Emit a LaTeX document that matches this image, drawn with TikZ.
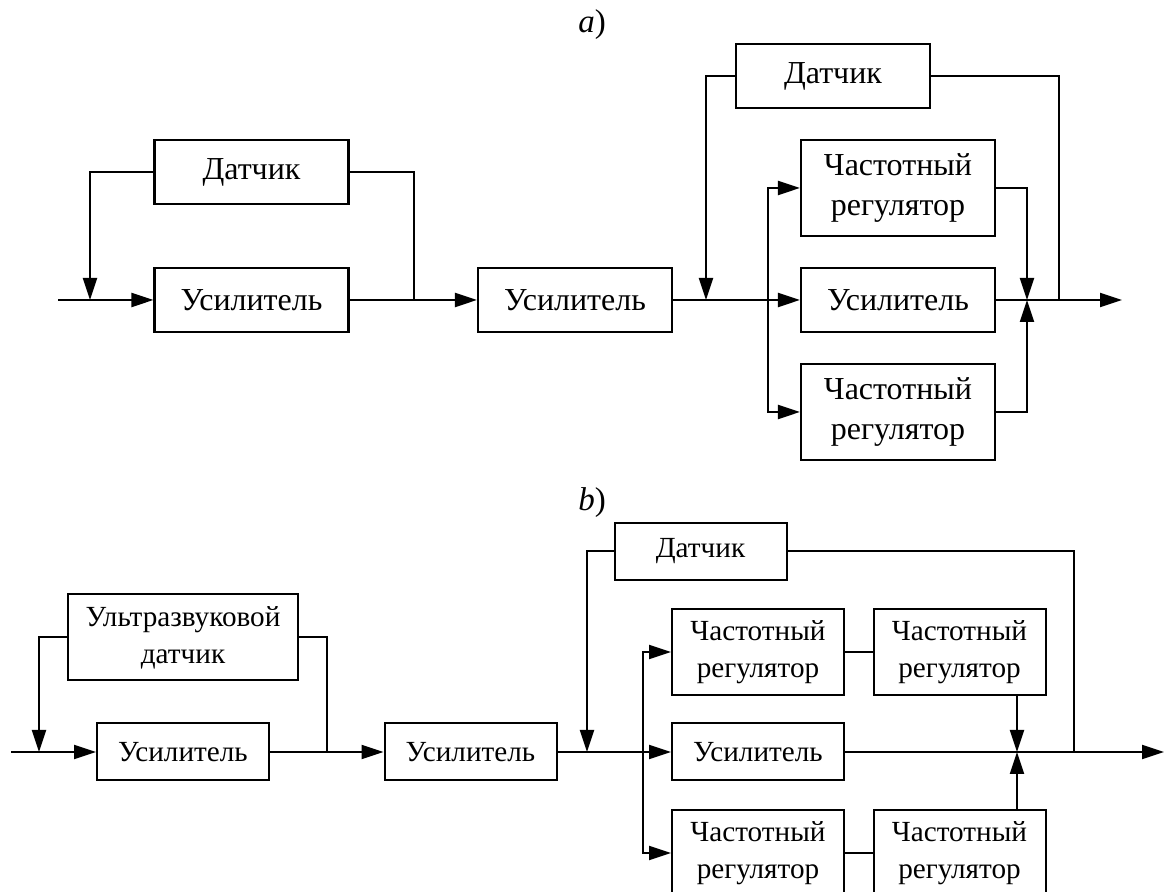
\documentclass[tikz,border=0pt]{standalone}
\usepackage{fontspec}
\setmainfont{Liberation Serif}
\usetikzlibrary{arrows.meta}
\tikzset{
  wire/.style={line width=1.1pt},
  sig/.style={wire,-{Triangle[length=11pt,width=7pt]}},
  boxA/.style={draw,line width=1.1pt,inner sep=0pt,align=center,
    minimum width=97pt,minimum height=32pt,font=\fontsize{16}{20}\selectfont},
  tallA/.style={boxA,minimum height=48pt},
  boxB/.style={draw,line width=1pt,inner sep=0pt,align=center,
    minimum width=86pt,minimum height=28.5pt,font=\fontsize{14.6}{18.5}\selectfont},
  tallB/.style={boxB,minimum height=43pt},
  caption/.style={font=\fontsize{16.5}{18}\selectfont}
}
\begin{document}
\begin{tikzpicture}[x=0.5pt,y=-0.5pt]
\useasboundingbox (0,0) rectangle (1164,892);
% a)
\node[caption] (capA) at (592,25) {\textit{a})};
\node[boxA] (sensA1) at (251.5,172) {Датчик};
\node[boxA] (ampA1) at (251.5,300) {Усилитель};
\node[boxA] (ampA2) at (575,300) {Усилитель};
\node[boxA] (sensA2) at (833,76) {Датчик};
\node[tallA] (freqA1) at (898,188) {Частотный\\регулятор};
\node[boxA] (ampA3) at (898,300) {Усилитель};
\node[tallA] (freqA2) at (898,412) {Частотный\\регулятор};
\coordinate (inA) at (58,300);
\coordinate (fbA1) at (90,300);
\coordinate (jA1) at (414,300);
\coordinate (fbA2) at (706,300);
\coordinate (brA) at (768,300);
\coordinate (sumA) at (1027,300);
\coordinate (jA2) at (1059,300);
\coordinate (outA) at (1122,300);
\draw[sig] (inA) -- (ampA1.west);
\draw[sig] (sensA1.west) -| (fbA1);
\draw[wire] (ampA1.east) -- (jA1) |- (sensA1.east);
\draw[sig] (jA1) -- (ampA2.west);
\draw[wire] (ampA2.east) -- (brA);
\draw[sig] (sensA2.west) -| (fbA2);
\draw[sig] (brA) -- (ampA3.west);
\draw[sig] (brA) |- (freqA1.west);
\draw[sig] (brA) |- (freqA2.west);
\draw[sig] (freqA1.east) -| (sumA);
\draw[sig] (freqA2.east) -| (sumA);
\draw[wire] (ampA3.east) -- (sumA);
\draw[sig] (sumA) -- (outA);
\draw[wire] (sensA2.east) -| (jA2);
% b)
\begin{scope}[wire/.append style={line width=1pt}]
\node[caption] (capB) at (592,503) {\textit{b})};
\node[tallB,minimum width=115pt] (sensB1) at (183,637.5) {Ультразвуковой\\датчик};
\node[boxB] (ampB1) at (183,752) {Усилитель};
\node[boxB] (ampB2) at (470.5,752) {Усилитель};
\node[boxB] (sensB2) at (700.5,551.5) {Датчик};
\node[tallB] (freqB1) at (758,652) {Частотный\\регулятор};
\node[tallB] (freqB2) at (959.5,652) {Частотный\\регулятор};
\node[boxB] (ampB3) at (758,752) {Усилитель};
\node[tallB] (freqB3) at (758,853) {Частотный\\регулятор};
\node[tallB] (freqB4) at (959.5,853) {Частотный\\регулятор};
\coordinate (inB) at (11,752);
\coordinate (fbB1) at (39,752);
\coordinate (jB1) at (327,752);
\coordinate (fbB2) at (587,752);
\coordinate (brB) at (643,752);
\coordinate (sumB) at (1017,752);
\coordinate (jB2) at (1074,752);
\coordinate (outB) at (1164,752);
\draw[sig] (inB) -- (ampB1.west);
\draw[sig] (sensB1.west) -| (fbB1);
\draw[wire] (ampB1.east) -- (jB1) |- (sensB1.east);
\draw[sig] (jB1) -- (ampB2.west);
\draw[wire] (ampB2.east) -- (brB);
\draw[sig] (sensB2.west) -| (fbB2);
\draw[sig] (brB) -- (ampB3.west);
\draw[sig] (brB) |- (freqB1.west);
\draw[sig] (brB) |- (freqB3.west);
\draw[wire] (freqB1.east) -- (freqB2.west);
\draw[wire] (freqB3.east) -- (freqB4.west);
\draw[sig] (sumB |- freqB2.south) -- (sumB);
\draw[sig] (sumB |- freqB4.north) -- (sumB);
\draw[wire] (ampB3.east) -- (sumB);
\draw[sig] (sumB) -- (outB);
\draw[wire] (sensB2.east) -| (jB2);
\end{scope}
\end{tikzpicture}
\end{document}
